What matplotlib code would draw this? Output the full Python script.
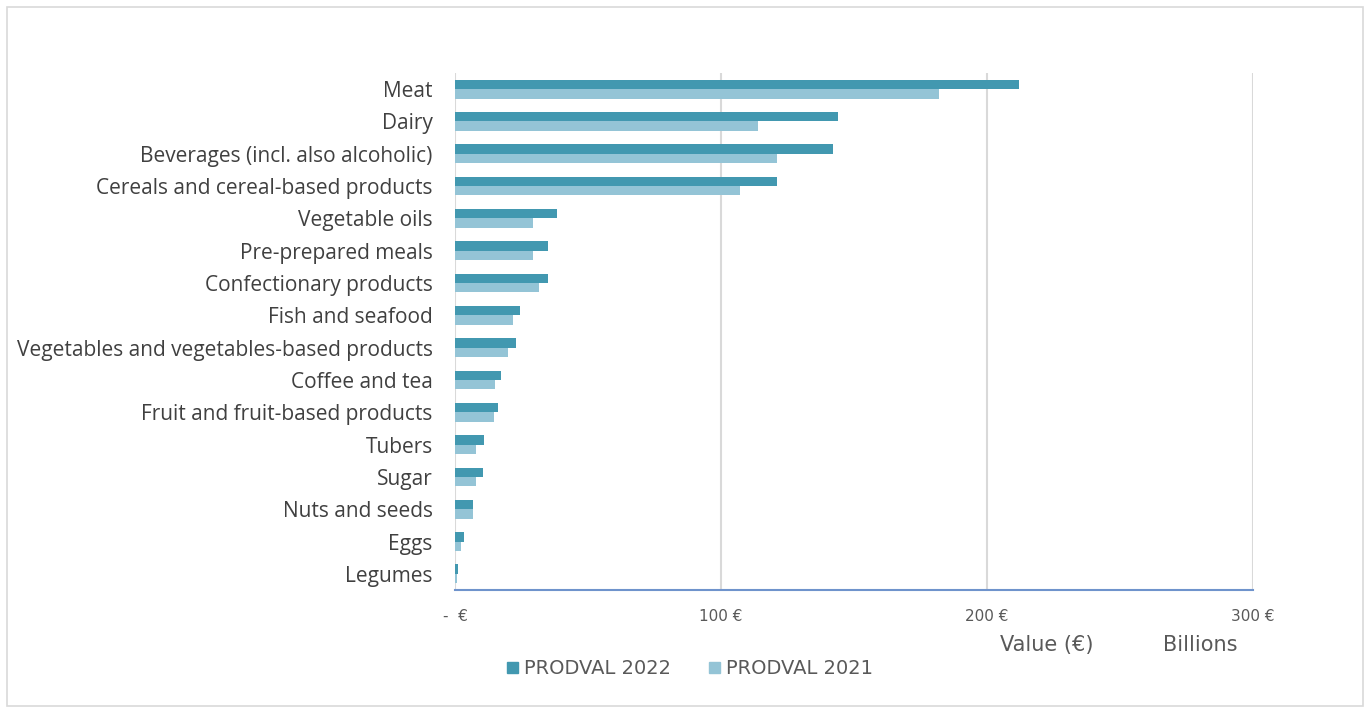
import matplotlib.pyplot as plt
from matplotlib.patches import Rectangle, Patch

# food categories, top to bottom
categories = ['Meat', 'Dairy', 'Beverages (incl. also alcoholic)',
              'Cereals and cereal-based products', 'Vegetable oils',
              'Pre-prepared meals', 'Confectionary products', 'Fish and seafood',
              'Vegetables and vegetables-based products', 'Coffee and tea',
              'Fruit and fruit-based products', 'Tubers', 'Sugar',
              'Nuts and seeds', 'Eggs', 'Legumes']

# production value, billions of euro
prodval_2022 = [212, 144, 142, 121, 38.5, 35, 34.8, 24.3, 22.8, 17.2,
                16.0, 10.8, 10.6, 6.8, 3.4, 1.0]
prodval_2021 = [182, 114, 121, 107, 29.2, 29.2, 31.6, 21.8, 20.1, 14.9,
                14.5, 8.0, 7.9, 6.7, 2.3, 0.8]

xticks = [0, 100, 200, 300]
xtick_labels = ['-  €', '100 €', '200 €', '300 €']

c22 = '#4298B0'
c21 = '#94C4D6'
narrow = 'DejaVu Sans'
plt.rcParams['font.family'] = ['Open Sans', 'DejaVu Sans']

fig = plt.figure(figsize=(13.71, 7.13), dpi=100)
ax = fig.add_axes([0.3319, 0.1725, 0.582, 0.7251])

pos = list(range(len(categories)))
h = 0.29
ax.barh([p - h / 2 for p in pos], prodval_2022, height=h, color=c22, zorder=3)
ax.barh([p + h / 2 for p in pos], prodval_2021, height=h, color=c21, zorder=3)

ax.set_ylim(len(categories) - 0.5, -0.5)
ax.set_xlim(0, 300)
ax.set_yticks(pos)
ax.set_yticklabels(categories, fontsize=15, color='#404040')
ax.set_xticks(xticks)
ax.set_xticklabels(xtick_labels, fontsize=11, color='#595959', family=narrow)
ax.tick_params(axis='both', length=0)
ax.tick_params(axis='x', pad=14)
ax.tick_params(axis='y', pad=16)

ax.grid(axis='x', color='#D9D9D9', linewidth=1.5, zorder=0)
for s in ['top', 'right', 'left']:
    ax.spines[s].set_visible(False)
ax.spines['bottom'].set_color('#6F93CC')
ax.spines['bottom'].set_linewidth(1.5)

fig.text(1047 / 1371, 1 - 645 / 713, 'Value (€)', ha='center', va='center',
         fontsize=15, color='#595959', family=narrow)
fig.text(1200 / 1371, 1 - 645 / 713, 'Billions', ha='center', va='center',
         fontsize=15, color='#595959', family=narrow)

handles = [Patch(color=c22, label='PRODVAL 2022'),
           Patch(color=c21, label='PRODVAL 2021')]
leg = fig.legend(handles=handles, loc='center', bbox_to_anchor=(690 / 1371, 1 - 669 / 713),
                 ncol=2, frameon=False, handlelength=0.55, handleheight=0.55,
                 handletextpad=0.3, columnspacing=2.0,
                 prop={'family': narrow, 'size': 14})
for t in leg.get_texts():
    t.set_color('#595959')

fig.patches.append(Rectangle((7 / 1371, 7 / 713), 1356 / 1371, 699 / 713,
                             transform=fig.transFigure, fill=False,
                             edgecolor='#D9D9D9', linewidth=1.2))

fig.savefig('out.png', dpi=100)
